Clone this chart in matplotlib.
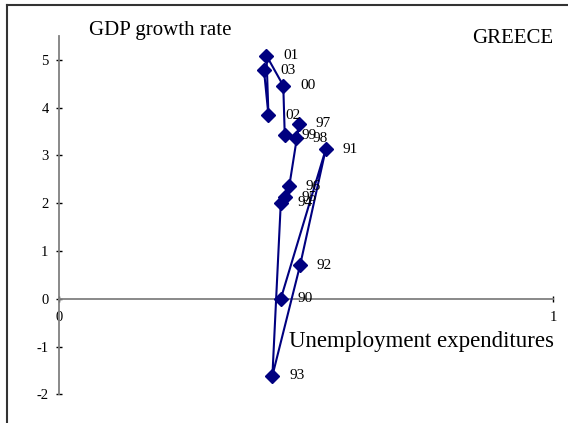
import matplotlib
matplotlib.use("Agg")
import matplotlib.pyplot as plt
from matplotlib.lines import Line2D

plt.rcParams['font.family'] = ['Liberation Serif', 'DejaVu Serif']
plt.rcParams['axes.unicode_minus'] = False

# data (years in order, joined by the line)
years = ['90', '91', '92', '93', '94', '95', '96', '97', '98', '99', '00', '01', '02', '03']
unemp = [0.449, 0.540, 0.488, 0.432, 0.449, 0.457, 0.466, 0.486, 0.480, 0.457, 0.454, 0.420, 0.424, 0.415]
gdp = [0.00, 3.13, 0.70, -1.61, 2.01, 2.12, 2.35, 3.66, 3.36, 3.42, 4.46, 5.09, 3.84, 4.78]

W, H = 568, 423
fig = plt.figure(figsize=(W / 100, H / 100), dpi=100)
ax = fig.add_axes([59 / W, (H - 394.3) / H, 494 / W, 358.3 / H])

ax.plot(unemp, gdp, color='#000080', lw=1.5, marker='D', ms=7.5,
        mfc='#000080', mec='#000080', zorder=3)
for x, y, t in zip(unemp, gdp, years):
    ax.annotate(t, (x, y), xytext=(12, 0), textcoords='offset points',
                va='center', ha='left', fontsize=11)

ax.set_xlim(0, 1)
ax.set_ylim(-2, 5.5)
ax.set_xticks([0, 1])
ax.set_yticks(range(-2, 6))

# axes cross at the origin, like excel
ax.spines['top'].set_visible(False)
ax.spines['right'].set_visible(False)
ax.spines['bottom'].set_position(('data', 0))
for s in ['left', 'bottom']:
    ax.spines[s].set_color('#808080')
    ax.spines[s].set_linewidth(1.3)
ax.tick_params(direction='inout', length=5, width=1, color='black',
               labelsize=10.5)
ax.tick_params(axis='y', pad=5)
ax.tick_params(axis='x', pad=6)

fig.text(89 / W, 1 - 35 / H, 'GDP growth rate', fontsize=15, va='baseline', ha='left')
fig.text(289 / W, 1 - 346.7 / H, 'Unemployment expenditures', fontsize=16.5, va='baseline', ha='left')
fig.text(472 / W, 1 - 43.3 / H, 'GREECE', fontsize=15, va='baseline', ha='left')

# outer frame (only top and left edges are inside the picture)
fig.add_artist(Line2D([7 / W, 1], [1 - 5 / H, 1 - 5 / H], color='#333333', lw=1.5))
fig.add_artist(Line2D([7 / W, 7 / W], [0, 1 - 5 / H], color='#333333', lw=1.5))

fig.savefig('out.png', dpi=100)
